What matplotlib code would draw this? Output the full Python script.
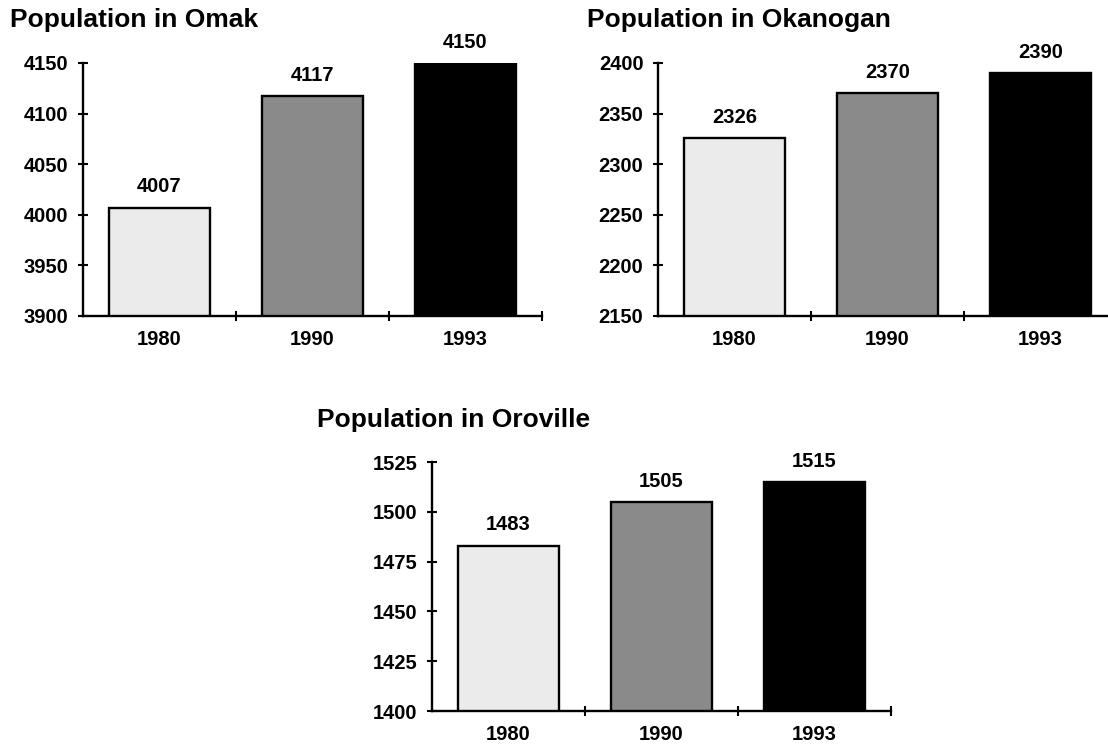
import matplotlib
matplotlib.use("Agg")
import matplotlib.pyplot as plt
import numpy as np

plt.rcParams['font.family'] = ['Liberation Sans', 'DejaVu Sans']

years = ["1980", "1990", "1993"]
omak = [4007, 4117, 4150]
okanogan = [2326, 2370, 2390]
oroville = [1483, 1505, 1515]

omak_ticks = [3900, 3950, 4000, 4050, 4100, 4150]
okanogan_ticks = [2150, 2200, 2250, 2300, 2350, 2400]
oroville_ticks = [1400, 1425, 1450, 1475, 1500, 1525]

bar_colors = ["#ebebeb", "#8a8a8a", "#000000"]

W, H = 1108, 748
fig = plt.figure(figsize=(W / 100, H / 100), dpi=100)

LABEL_SIZE = 14.5


def px_axes(x0, x1, ytop, ybot):
    return fig.add_axes([x0 / W, 1 - ybot / H, (x1 - x0) / W, (ybot - ytop) / H])


def draw_panel(ax, values, yticks, title, title_x, title_y):
    x = np.arange(len(years))
    ax.bar(x, values, width=0.66, color=bar_colors, edgecolor="black",
           linewidth=1.7, zorder=2)
    ax.set_xlim(-0.5, len(years) - 0.5)
    ax.set_ylim(yticks[0], yticks[-1])
    ax.set_yticks(yticks)
    ax.set_yticklabels([str(t) for t in yticks], fontsize=LABEL_SIZE, fontweight="bold")
    ax.set_xticks(x)
    ax.set_xticklabels(years, fontsize=LABEL_SIZE, fontweight="bold")
    ax.set_xticks(np.arange(len(years)) + 0.5, minor=True)
    ax.tick_params(axis="x", which="major", length=0, pad=10)
    ax.tick_params(axis="x", which="minor", direction="inout", length=7, width=1.5)
    ax.tick_params(axis="y", direction="inout", length=7, width=1.5, pad=7)
    for s in ("top", "right"):
        ax.spines[s].set_visible(False)
    for s in ("left", "bottom"):
        ax.spines[s].set_linewidth(1.7)
    span = yticks[-1] - yticks[0]
    for xi, v in zip(x, values):
        ax.text(xi, v + span * 0.045, str(v), ha="center", va="bottom",
                fontsize=LABEL_SIZE, fontweight="bold", clip_on=False)
    fig.text(title_x / W, 1 - title_y / H, title, fontsize=19,
             fontweight="bold", ha="left", va="baseline")


ax1 = px_axes(83, 542, 63, 316)
draw_panel(ax1, omak, omak_ticks, "Population in Omak", 10, 27)

ax2 = px_axes(658, 1117, 63, 316)
draw_panel(ax2, okanogan, okanogan_ticks, "Population in Okanogan", 587, 27)

ax3 = px_axes(432, 891, 462, 711)
draw_panel(ax3, oroville, oroville_ticks, "Population in Oroville", 317, 427)

fig.savefig("out.png", dpi=100)
